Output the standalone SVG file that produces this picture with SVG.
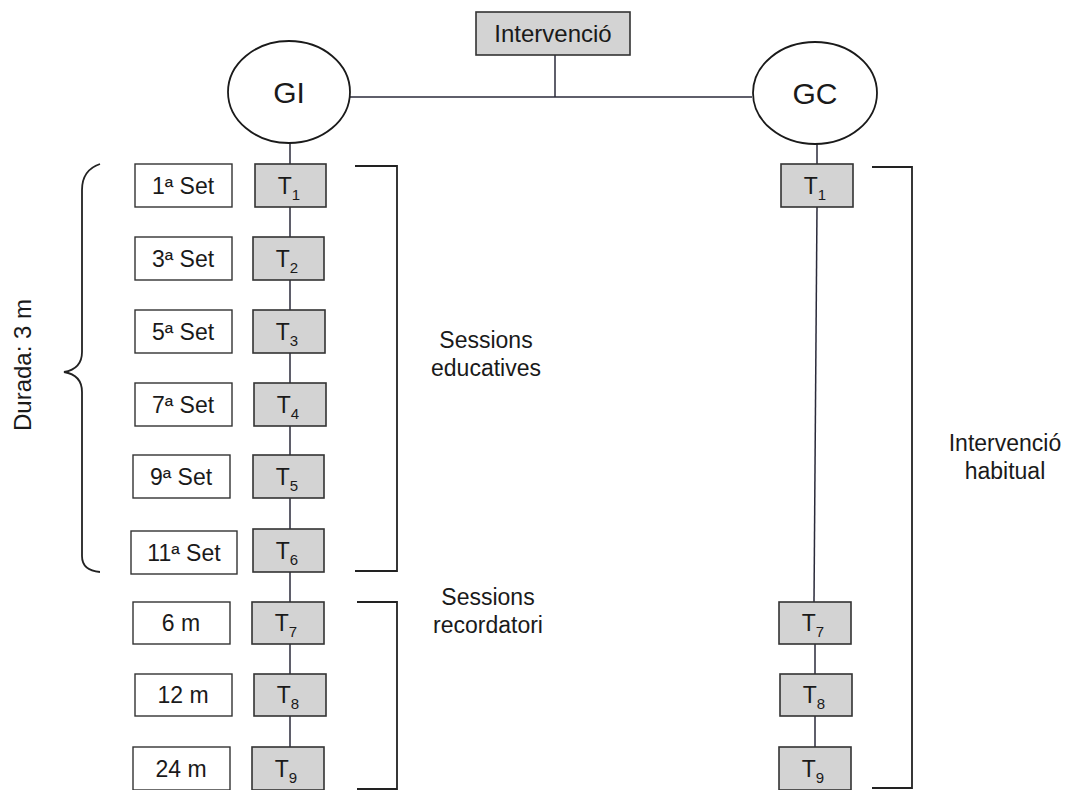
<svg xmlns="http://www.w3.org/2000/svg" width="1074" height="790" viewBox="0 0 1074 790">
<style>
  text { font-family: "Liberation Sans", Arial, sans-serif; fill: #1a1a1a; }
  .lbl { font-size: 23px; text-anchor: middle; }
  .big { font-size: 30px; text-anchor: middle; }
  .tbox { fill: #d3d3d3; stroke: #333; stroke-width: 1.6; }
  .sbox { fill: #ffffff; stroke: #333; stroke-width: 1.4; }
  .ell { fill: #ffffff; stroke: #1a1a1a; stroke-width: 1.8; }
  .conn { fill: none; stroke: #2a2a3a; stroke-width: 1.5; }
  .brk { fill: none; stroke: #222; stroke-width: 1.8; }
  .sub { font-size: 15px; }
</style>
<rect width="1074" height="790" fill="#ffffff"/>

<g id="connectors">
  <line class="conn" x1="555" y1="55" x2="555" y2="97"/>
  <line class="conn" x1="350" y1="97" x2="752" y2="97"/>
  <line class="conn" x1="290" y1="143" x2="290" y2="747"/>
  <line class="conn" x1="817" y1="144" x2="817" y2="164"/>
  <line class="conn" x1="817" y1="207" x2="814" y2="602"/>
  <line class="conn" x1="815" y1="643" x2="815" y2="747"/>
</g>

<g id="intervencio">
  <rect class="tbox" x="476" y="12" width="154" height="43"/>
  <text class="lbl" x="553" y="42" style="font-size:24px">Intervenció</text>
</g>

<g id="GI">
  <ellipse class="ell" cx="289" cy="92" rx="61" ry="51"/>
  <text class="big" x="289" y="103">GI</text>
</g>
<g id="GC">
  <ellipse class="ell" cx="815" cy="93" rx="62" ry="51"/>
  <text class="big" x="815" y="104">GC</text>
</g>

<g id="gi-t1"><rect class="tbox" x="255" y="164" width="71" height="43"/><text class="lbl" x="289" y="194">T<tspan class="sub" dy="6">1</tspan></text></g>
<g id="gi-t2"><rect class="tbox" x="253" y="237" width="71" height="43"/><text class="lbl" x="287" y="267">T<tspan class="sub" dy="6">2</tspan></text></g>
<g id="gi-t3"><rect class="tbox" x="253" y="310" width="72" height="43"/><text class="lbl" x="287" y="340">T<tspan class="sub" dy="6">3</tspan></text></g>
<g id="gi-t4"><rect class="tbox" x="254" y="383" width="72" height="43"/><text class="lbl" x="288" y="413">T<tspan class="sub" dy="6">4</tspan></text></g>
<g id="gi-t5"><rect class="tbox" x="253" y="455" width="71" height="43"/><text class="lbl" x="287" y="485">T<tspan class="sub" dy="6">5</tspan></text></g>
<g id="gi-t6"><rect class="tbox" x="253" y="529" width="71" height="43"/><text class="lbl" x="287" y="559">T<tspan class="sub" dy="6">6</tspan></text></g>
<g id="gi-t7"><rect class="tbox" x="252" y="602" width="72" height="42"/><text class="lbl" x="286" y="631">T<tspan class="sub" dy="6">7</tspan></text></g>
<g id="gi-t8"><rect class="tbox" x="254" y="674" width="72" height="42"/><text class="lbl" x="288" y="703">T<tspan class="sub" dy="6">8</tspan></text></g>
<g id="gi-t9"><rect class="tbox" x="252" y="747" width="72" height="43"/><text class="lbl" x="286" y="777">T<tspan class="sub" dy="6">9</tspan></text></g>

<g id="set1"><rect class="sbox" x="135" y="164" width="97" height="43"/><text class="lbl" x="183" y="194">1ª Set</text></g>
<g id="set3"><rect class="sbox" x="135" y="237" width="97" height="43"/><text class="lbl" x="183" y="267">3ª Set</text></g>
<g id="set5"><rect class="sbox" x="135" y="310" width="97" height="43"/><text class="lbl" x="183" y="340">5ª Set</text></g>
<g id="set7"><rect class="sbox" x="135" y="383" width="97" height="43"/><text class="lbl" x="183" y="413">7ª Set</text></g>
<g id="set9"><rect class="sbox" x="133" y="455" width="97" height="43"/><text class="lbl" x="181" y="485">9ª Set</text></g>
<g id="set11"><rect class="sbox" x="131" y="531" width="106" height="43"/><text class="lbl" x="184" y="561">11ª Set</text></g>
<g id="m6"><rect class="sbox" x="133" y="602" width="97" height="42"/><text class="lbl" x="181" y="631">6 m</text></g>
<g id="m12"><rect class="sbox" x="135" y="674" width="97" height="42"/><text class="lbl" x="183" y="703">12 m</text></g>
<g id="m24"><rect class="sbox" x="133" y="747" width="97" height="43"/><text class="lbl" x="181" y="777">24 m</text></g>

<g id="gc-t1"><rect class="tbox" x="781" y="164" width="72" height="43"/><text class="lbl" x="815" y="194">T<tspan class="sub" dy="6">1</tspan></text></g>
<g id="gc-t7"><rect class="tbox" x="779" y="602" width="72" height="42"/><text class="lbl" x="813" y="631">T<tspan class="sub" dy="6">7</tspan></text></g>
<g id="gc-t8"><rect class="tbox" x="780" y="674" width="72" height="42"/><text class="lbl" x="814" y="703">T<tspan class="sub" dy="6">8</tspan></text></g>
<g id="gc-t9"><rect class="tbox" x="779" y="747" width="72" height="43"/><text class="lbl" x="813" y="777">T<tspan class="sub" dy="6">9</tspan></text></g>

<g id="brace-durada">
  <path class="brk" d="M100 164 C88 168 82 176 82 190 V352 C82 364 76 370 64 372 C76 374 82 380 82 392 V556 C82 566 88 571 100 572"/>
  <text class="lbl" transform="translate(31 365) rotate(-90)" style="font-size:24px">Durada: 3 m</text>
</g>

<g id="bracket-educatives">
  <path class="brk" d="M355 166 H397 V571 H355"/>
  <text class="lbl" x="486" y="348">Sessions</text>
  <text class="lbl" x="486" y="376">educatives</text>
</g>

<g id="bracket-recordatori">
  <path class="brk" d="M357 602 H397 V789 H357"/>
  <text class="lbl" x="488" y="605">Sessions</text>
  <text class="lbl" x="488" y="633">recordatori</text>
</g>

<g id="bracket-habitual">
  <path class="brk" d="M872 167 H912 V788 H872"/>
  <text class="lbl" x="1005" y="451">Intervenció</text>
  <text class="lbl" x="1005" y="479">habitual</text>
</g>
</svg>
